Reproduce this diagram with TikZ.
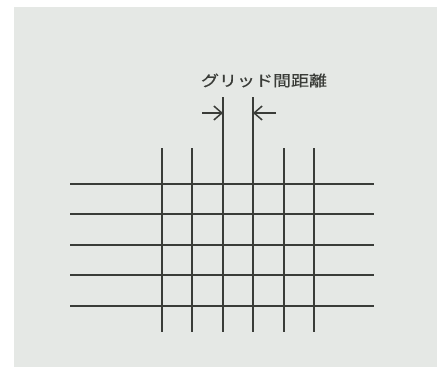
\documentclass[tikz,border=0pt]{standalone}
\usepackage{fontspec}
\newfontfamily\jpfont[FakeBold=0.6]{Noto Sans CJK JP}
\usetikzlibrary{arrows.meta}
\definecolor{paper}{HTML}{E5E8E5}
\definecolor{ink}{HTML}{3A3C38}

\begin{document}
\begin{tikzpicture}[
		x=1pt, y=-1pt,
		gridline/.style={draw=ink, line width=1.8pt},
		dimline/.style={draw=ink, line width=1.5pt, -{Straight Barb[length=8pt, width=14pt]}},
		dimlabel/.style={inner sep=0pt, text=ink, font=\jpfont\fontsize{15}{15}\selectfont},
	]
	\useasboundingbox (0, 0) rectangle (437, 367);
	\fill[paper] (14, 7) rectangle (437, 367);

	% rows
	\foreach \y in {184, 214, 245, 275, 306}
		\draw[gridline] (70, \y) -- (374, \y);

	% columns, the two middle ones are taller
	\foreach \x in {162, 192, 284, 314}
		\draw[gridline] (\x, 148) -- (\x, 332);
	\foreach \x in {223, 253}
		\draw[gridline] (\x, 97) -- (\x, 332);

	\node[dimlabel] (gap) at (264, 80.5) {\scalebox{1.2}[1]{グリッド間距離}};

	\coordinate (l0) at (202, 113);
	\coordinate (l1) at (223, 113);
	\coordinate (r0) at (276, 113);
	\coordinate (r1) at (253, 113);
	\draw[dimline] (l0) -- (l1);
	\draw[dimline] (r0) -- (r1);
\end{tikzpicture}
\end{document}
